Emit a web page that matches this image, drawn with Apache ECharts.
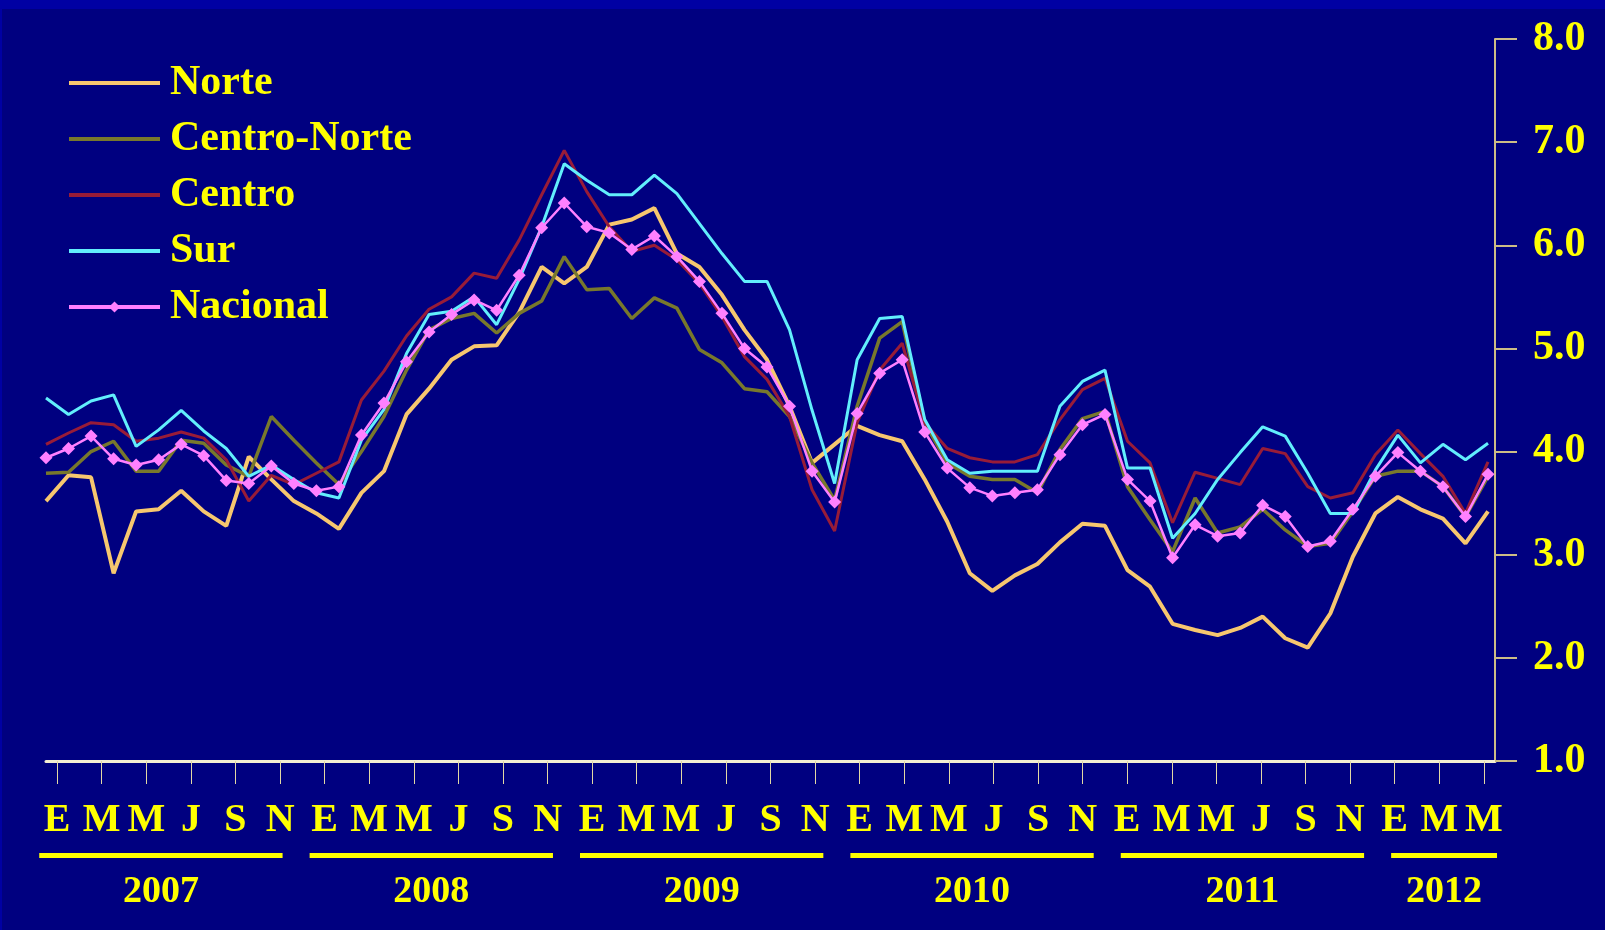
<!DOCTYPE html>
<html>
<head>
<meta charset="utf-8">
<title>Regiones</title>
<script src="https://cdn.jsdelivr.net/npm/echarts@6/dist/echarts.min.js"></script>
<style>
  html, body { margin: 0; padding: 0; background: #000080; }
  #wrap { position: relative; width: 1605px; height: 930px; overflow: hidden; }
  #chart { position: absolute; left: 0; top: 0; width: 1605px; height: 930px; }
  /* slide frame: brighter blue strip along the top and left edges */
  #frame { position: absolute; left: 0; top: 0; width: 1605px; height: 930px; box-sizing: border-box;
           border-top: 9px solid #0000a3; border-left: 2px solid #0000a3; pointer-events: none; }
</style>
</head>
<body>
<div id="wrap"><div id="chart"></div><div id="frame"></div></div>
<script>
// Months: January 2007 to May 2012 (65 monthly observations)
const years = ['2007', '2008', '2009', '2010', '2011', '2012'];
const monthLetters = ['E', 'F', 'M', 'A', 'M', 'J', 'J', 'A', 'S', 'O', 'N', 'D'];
const lastMonthCount = 65;
const yTicks = [1, 2, 3, 4, 5, 6, 7, 8];

const norte = [
  3.52, 3.77, 3.75, 2.82, 3.42, 3.44, 3.62, 3.42, 3.28, 3.95, 3.73, 3.52,
  3.40, 3.25, 3.60, 3.81, 4.36, 4.61, 4.89, 5.02, 5.03, 5.35, 5.79, 5.63,
  5.79, 6.20, 6.25, 6.36, 5.92, 5.79, 5.52, 5.18, 4.89, 4.44, 3.89, 4.07,
  4.25, 4.16, 4.10, 3.73, 3.32, 2.82, 2.65, 2.80, 2.91, 3.12, 3.30, 3.28,
  2.85, 2.69, 2.33, 2.27, 2.22, 2.29, 2.40, 2.19, 2.10, 2.43, 2.98, 3.40,
  3.56, 3.44, 3.35, 3.11, 3.42
];
const centroNorte = [
  3.79, 3.80, 4.00, 4.10, 3.81, 3.81, 4.11, 4.08, 3.87, 3.76, 4.34, 4.11,
  3.89, 3.68, 4.00, 4.34, 4.79, 5.18, 5.29, 5.34, 5.15, 5.34, 5.46, 5.89,
  5.57, 5.58, 5.29, 5.49, 5.39, 4.99, 4.86, 4.61, 4.58, 4.34, 3.89, 3.53,
  4.44, 5.10, 5.26, 4.28, 3.89, 3.76, 3.73, 3.73, 3.60, 4.02, 4.32, 4.39,
  3.66, 3.34, 3.03, 3.55, 3.21, 3.27, 3.44, 3.24, 3.08, 3.11, 3.42, 3.76,
  3.81, 3.81, 3.66, 3.37, 3.76
];
const centro = [
  4.07, 4.18, 4.28, 4.26, 4.10, 4.13, 4.19, 4.13, 3.92, 3.52, 3.77, 3.68,
  3.79, 3.90, 4.50, 4.78, 5.12, 5.38, 5.50, 5.73, 5.68, 6.05, 6.49, 6.92,
  6.52, 6.18, 5.94, 6.00, 5.86, 5.63, 5.31, 4.92, 4.70, 4.34, 3.63, 3.23,
  4.28, 4.79, 5.05, 4.28, 4.03, 3.94, 3.90, 3.90, 3.97, 4.31, 4.60, 4.71,
  4.10, 3.89, 3.31, 3.80, 3.74, 3.68, 4.03, 3.98, 3.66, 3.55, 3.60, 3.97,
  4.21, 3.98, 3.76, 3.40, 3.90
];
const sur = [
  4.52, 4.36, 4.49, 4.55, 4.05, 4.21, 4.40, 4.20, 4.03, 3.76, 3.87, 3.73,
  3.60, 3.55, 4.11, 4.41, 4.95, 5.33, 5.36, 5.50, 5.23, 5.67, 6.18, 6.79,
  6.63, 6.49, 6.49, 6.68, 6.50, 6.21, 5.92, 5.65, 5.65, 5.18, 4.40, 3.69,
  4.89, 5.29, 5.31, 4.31, 3.92, 3.79, 3.81, 3.81, 3.81, 4.44, 4.68, 4.79,
  3.84, 3.84, 3.16, 3.40, 3.73, 3.99, 4.24, 4.15, 3.79, 3.40, 3.40, 3.82,
  4.16, 3.89, 4.07, 3.92, 4.08
];
const nacional = [
  3.94, 4.03, 4.15, 3.93, 3.87, 3.92, 4.07, 3.96, 3.72, 3.69, 3.86, 3.69,
  3.62, 3.66, 4.16, 4.47, 4.87, 5.16, 5.33, 5.47, 5.37, 5.71, 6.17, 6.41,
  6.18, 6.12, 5.96, 6.09, 5.89, 5.65, 5.34, 5.00, 4.82, 4.44, 3.81, 3.51,
  4.37, 4.76, 4.89, 4.19, 3.84, 3.65, 3.57, 3.60, 3.63, 3.97, 4.26, 4.36,
  3.73, 3.52, 2.97, 3.29, 3.18, 3.21, 3.48, 3.37, 3.08, 3.13, 3.44, 3.76,
  3.99, 3.81, 3.66, 3.37, 3.78
];

// month letter for every observation
const monthLabels = [];
for (let i = 0; i < lastMonthCount; i++) monthLabels.push(monthLetters[i % 12]);

const YELLOW = '#ffff00';
const FONT = '"Liberation Serif", "Times New Roman", serif';
const everyOther = (idx) => idx % 2 === 0;

function lineSeries(name, values, color, width, extra) {
  return Object.assign({
    name: name,
    type: 'line',
    xAxisIndex: 0,
    yAxisIndex: 0,
    data: values.map((v, i) => [i, v]),
    symbol: 'none',
    lineStyle: { color: color, width: width },
    itemStyle: { color: color },
    emphasis: { disabled: true }
  }, extra || {});
}

// thick plain lines in the legend, only Nacional keeps its diamond marker
const lineOnly = (name) => ({ name: name, itemStyle: { opacity: 0 }, lineStyle: { width: 4 } });

const chart = echarts.init(document.getElementById('chart'), null, { renderer: 'canvas' });

chart.setOption({
  backgroundColor: '#000080',
  animation: false,
  grid: { left: 46, right: 110, top: 39, bottom: 169 },
  legend: {
    orient: 'vertical',
    left: 67,
    top: 62,
    padding: 0,
    itemWidth: 91,
    itemHeight: 14,
    itemGap: 14,
    textStyle: { color: YELLOW, fontFamily: FONT, fontWeight: 'bold', fontSize: 42, padding: [0, 0, 0, 5] },
    data: [lineOnly('Norte'), lineOnly('Centro-Norte'), lineOnly('Centro'), lineOnly('Sur'),
           { name: 'Nacional', lineStyle: { width: 4 } }]
  },
  xAxis: [
    { type: 'value', min: 0, max: 64.31, show: false, position: 'bottom' },
    {
      type: 'category',
      position: 'bottom',
      data: monthLabels,
      boundaryGap: true,
      axisLine: { show: true, onZero: false, lineStyle: { color: '#f4efd2', width: 3 } },
      axisTick: { show: true, alignWithLabel: true, interval: everyOther, length: 23,
                  lineStyle: { color: '#e2d7a4', width: 1 } },
      axisLabel: { interval: everyOther, color: YELLOW, fontFamily: FONT, fontWeight: 'bold',
                   fontSize: 40, margin: 40 },
      splitLine: { show: false }
    }
  ],
  yAxis: {
    type: 'value',
    position: 'right',
    min: yTicks[0],
    max: yTicks[yTicks.length - 1],
    interval: 1,
    axisLine: { show: true, onZero: false, lineStyle: { color: '#cdbd86', width: 2 } },
    axisTick: { show: true, length: 22, lineStyle: { color: '#cdbd86', width: 2 } },
    axisLabel: { color: YELLOW, fontFamily: FONT, fontWeight: 'bold', fontSize: 42, margin: 38,
                 formatter: (v) => v.toFixed(1) },
    splitLine: { show: false }
  },
  series: [
    lineSeries('Norte', norte, '#f7c76f', 4),
    lineSeries('Centro-Norte', centroNorte, '#78782c', 3.5),
    lineSeries('Centro', centro, '#981c38', 3),
    lineSeries('Sur', sur, '#62eefc', 3),
    lineSeries('Nacional', nacional, '#ff80ff', 2.5, { symbol: 'diamond', symbolSize: 13, showSymbol: true })
  ]
});

// Year underlines and year captions below the month letters
function drawYears() {
  const els = [];
  years.forEach((y, k) => {
    const start = 12 * k - 0.3;
    const end = Math.min(12 * k + 10.5, 64.4);
    const x0 = chart.convertToPixel({ xAxisIndex: 0 }, start);
    const x1 = chart.convertToPixel({ xAxisIndex: 0 }, end);
    els.push({
      type: 'rect', silent: true,
      shape: { x: x0, y: 853, width: x1 - x0, height: 5 },
      style: { fill: YELLOW }
    });
    els.push({
      type: 'text', silent: true,
      x: (x0 + x1) / 2, y: 892,
      style: { text: y, fill: YELLOW, fontFamily: FONT, fontWeight: 'bold', fontSize: 38,
               align: 'center', verticalAlign: 'middle' }
    });
  });
  chart.setOption({ graphic: els });
}
drawYears();
</script>
</body>
</html>
